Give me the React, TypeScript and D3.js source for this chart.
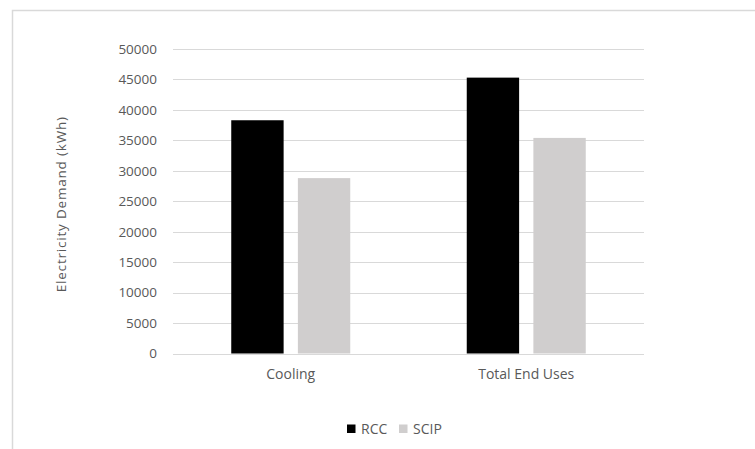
import { scaleBand, scaleLinear } from 'd3';

const categories = ['Cooling', 'Total End Uses'];
const seriesNames = ['RCC', 'SCIP'];
const rccValues = [38300, 45300];
const scipValues = [28800, 35400];
const yTicks = [0, 5000, 10000, 15000, 20000, 25000, 30000, 35000, 40000, 45000, 50000];

const colors: Record<string, string> = { RCC: '#000000', SCIP: '#d0cece' };
const font = '"Open Sans", sans-serif';
const textColor = '#595959';

const App = () => {
  const width = 755;
  const height = 449;
  const plot = { left: 173, right: 644, top: 49, bottom: 353.5 };

  const xScale = scaleBand<string>().domain(categories).range([plot.left, plot.right]).padding(0);
  const groupPad = 58.25;
  const xInner = scaleBand<string>()
    .domain(seriesNames)
    .range([groupPad, xScale.bandwidth() - groupPad])
    .paddingInner(0.214)
    .paddingOuter(0);
  const yScale = scaleLinear().domain([0, 50000]).range([plot.bottom, plot.top]);

  const values: Record<string, number[]> = { RCC: rccValues, SCIP: scipValues };

  return (
    <svg
      width={width}
      height={height}
      style={{ position: 'absolute', left: 0, top: 0, background: '#fff' }}
    >
      <rect x={12.5} y={10.5} width={800} height={500} fill="#fff" stroke="#d9d9d9" strokeWidth={1.5} />

      {yTicks.map((t) => (
        <g key={t}>
          <line
            x1={plot.left}
            x2={plot.right}
            y1={Math.round(yScale(t)) + 0.5}
            y2={Math.round(yScale(t)) + 0.5}
            stroke="#d9d9d9"
            strokeWidth={1.2}
          />
          <text
            x={157}
            y={yScale(t)}
            dy="0.36em"
            textAnchor="end"
            fontFamily={font}
            fontSize={13.5}
            fill={textColor}
          >
            {t}
          </text>
        </g>
      ))}

      {categories.map((c, i) =>
        seriesNames.map((s) => (
          <rect
            key={c + s}
            x={(xScale(c) ?? 0) + (xInner(s) ?? 0)}
            y={yScale(values[s][i])}
            width={xInner.bandwidth()}
            height={plot.bottom - yScale(values[s][i])}
            fill={colors[s]}
          />
        ))
      )}

      {categories.map((c) => (
        <text
          key={c}
          x={(xScale(c) ?? 0) + xScale.bandwidth() / 2}
          y={379}
          textAnchor="middle"
          fontFamily={font}
          fontSize={14}
          fill={textColor}
        >
          {c}
        </text>
      ))}

      <text
        transform={`translate(66, ${(plot.top + plot.bottom) / 2 + 3}) rotate(-90)`}
        textAnchor="middle"
        fontFamily={font}
        fontSize={13.5}
        letterSpacing={0.8}
        fill={textColor}
      >
        Electricity Demand (kWh)
      </text>

      {seriesNames.map((s, i) => {
        const x0 = i === 0 ? 347 : 399;
        return (
          <g key={s}>
            <rect x={x0} y={424.5} width={8.5} height={8.5} fill={colors[s]} />
            <text x={x0 + 14} y={433.5} fontFamily={font} fontSize={14} fill={textColor}>
              {s}
            </text>
          </g>
        );
      })}
    </svg>
  );
};

export default App;
